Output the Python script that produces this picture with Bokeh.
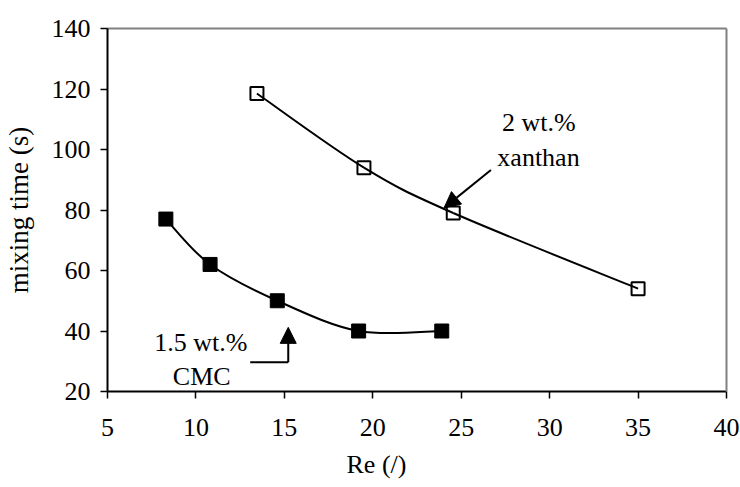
from bokeh.plotting import figure
from bokeh.models import (Range1d, FixedTicker, LinearAxis, Label, Arrow, NormalHead, Title)
from bokeh.embed import file_html
from bokeh.resources import INLINE

# ---- data ----
cmc_re = [8.3, 10.8, 14.6, 19.2, 23.9]
cmc_t = [77, 62, 50, 40, 40]
xan_re = [13.45, 19.5, 24.55, 35.0]
xan_t = [118.5, 94, 79, 54]
x_ticks = [5, 10, 15, 20, 25, 30, 35, 40]
y_ticks = [20, 40, 60, 80, 100, 120, 140]

FONT = "Liberation Serif"


def smooth_segments(xs, ys):
    """Bezier segments (Catmull-Rom style, like a spreadsheet 'smoothed line')."""
    n = len(xs)
    seg = dict(x0=[], y0=[], x1=[], y1=[], cx0=[], cy0=[], cx1=[], cy1=[])
    for i in range(n - 1):
        a = i - 1 if i > 0 else i
        b = i + 2 if i + 2 < n else i + 1
        seg["x0"].append(xs[i]); seg["y0"].append(ys[i])
        seg["x1"].append(xs[i + 1]); seg["y1"].append(ys[i + 1])
        seg["cx0"].append(xs[i] + (xs[i + 1] - xs[a]) / 6.0)
        seg["cy0"].append(ys[i] + (ys[i + 1] - ys[a]) / 6.0)
        seg["cx1"].append(xs[i + 1] - (xs[b] - xs[i]) / 6.0)
        seg["cy1"].append(ys[i + 1] - (ys[b] - ys[i]) / 6.0)
    return seg


p = figure(width=740, height=487, output_backend="svg", toolbar_location=None,
           x_range=Range1d(x_ticks[0], x_ticks[-1]), y_range=Range1d(y_ticks[0], y_ticks[-1]),
           min_border_left=106, min_border_right=14, min_border_top=28, min_border_bottom=95,
           y_axis_label="mixing time (s)")
p.background_fill_color = "white"
p.border_fill_color = "white"
p.outline_line_color = None
p.xgrid.visible = False
p.ygrid.visible = False

for ax, ticks in ((p.xaxis[0], x_ticks), (p.yaxis[0], y_ticks)):
    ax.ticker = FixedTicker(ticks=ticks)
    ax.axis_line_color = "black"
    ax.axis_line_width = 2
    ax.major_tick_line_color = "black"
    ax.major_tick_line_width = 1.5
    ax.major_tick_in = 0
    ax.major_tick_out = 7
    ax.minor_tick_line_color = None
    ax.major_label_text_font = FONT
    ax.major_label_text_font_size = "26px"
    ax.major_label_text_color = "black"
p.xaxis.major_label_standoff = 20
p.yaxis.major_label_standoff = 10
p.yaxis.axis_label_text_font = FONT
p.yaxis.axis_label_text_font_size = "27px"
p.yaxis.axis_label_text_font_style = "normal"
p.yaxis.axis_label_text_color = "black"
p.yaxis.axis_label_standoff = 15

# x-axis title, placed left of centre as in the reference
p.add_layout(Title(text="Re (/)", text_font=FONT, text_font_size="26px",
                   text_font_style="normal", text_color="black",
                   align="left", offset=239, standoff=18), "below")

# gray top / right frame lines
for side in ("above", "right"):
    a = LinearAxis(ticker=FixedTicker(ticks=[]), axis_line_color="#808080", axis_line_width=2,
                   major_tick_line_color=None, minor_tick_line_color=None,
                   major_label_text_font_size="0px")
    p.add_layout(a, side)

# smoothed lines
for xs, ys in ((cmc_re, cmc_t), (xan_re, xan_t)):
    s = smooth_segments(xs, ys)
    p.bezier(x0=s["x0"], y0=s["y0"], x1=s["x1"], y1=s["y1"],
             cx0=s["cx0"], cy0=s["cy0"], cx1=s["cx1"], cy1=s["cy1"],
             line_color="black", line_width=2)

# markers
p.scatter(cmc_re, cmc_t, marker="square", size=14, fill_color="black",
          line_color="black", line_width=1)
p.scatter(xan_re, xan_t, marker="square", size=13, fill_alpha=0,
          line_color="black", line_width=2)

# annotations
def lab(txt, x, y, size="26px"):
    p.add_layout(Label(x=x, y=y, text=txt, text_font=FONT, text_font_size=size,
                       text_align="center", text_baseline="alphabetic",
                       text_color="black"))

lab("2 wt.%", 29.39, 109.0)
lab("xanthan", 29.37, 97.5)
lab("1.5 wt.%", 10.28, 36.2)
lab("CMC", 10.33, 25.0)

p.add_layout(Arrow(end=NormalHead(size=16, fill_color="black", line_color="black"),
                   x_start=26.68, y_start=93.2, x_end=24.03, y_end=80.7,
                   line_color="black", line_width=2))
p.segment(x0=[13.07], y0=[29.7], x1=[15.22], y1=[29.7], line_color="black", line_width=2)
p.add_layout(Arrow(end=NormalHead(size=16, fill_color="black", line_color="black"),
                   x_start=15.22, y_start=29.7, x_end=15.22, y_end=41.2,
                   line_color="black", line_width=2))

open("out.html", "w").write(file_html(p, INLINE))
